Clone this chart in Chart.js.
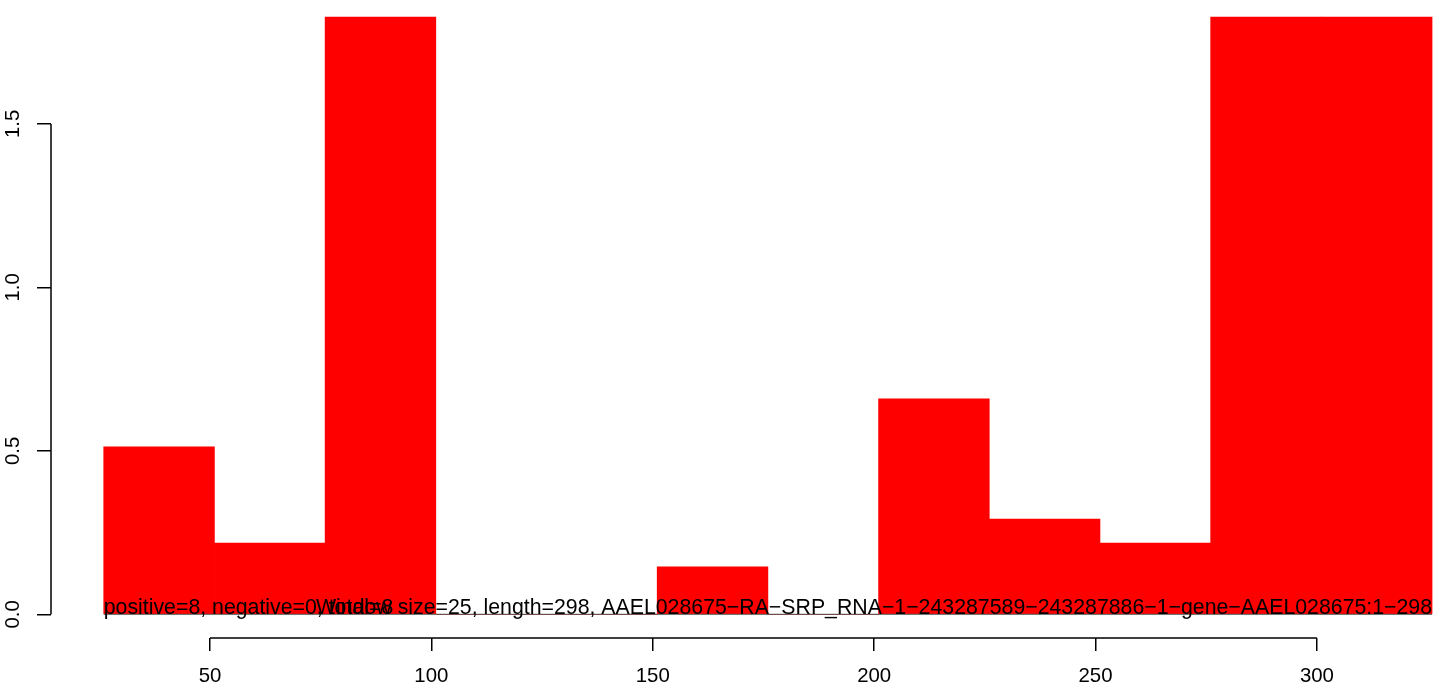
<!DOCTYPE html>
<html>
<head>
<meta charset="utf-8">
<script src="https://cdn.jsdelivr.net/npm/chart.js@4/dist/chart.umd.min.js"></script>
<style>
  html, body { margin: 0; padding: 0; background: #fff; overflow: hidden; }
  #wrap { width: 1444px; height: 689px; }
</style>
</head>
<body>
<div id="wrap"><canvas id="chart" width="1444" height="689"></canvas></div>
<script>
// window start positions (window size 25) and the values per window
const binStart = [26, 51, 76, 101, 126, 151, 176, 201, 226, 251, 276, 301];
const binValues = [0.512, 0.218, 1.827, 0, 0, 0.145, 0, 0.659, 0.291, 0.218, 1.827, 1.827];
const windowSize = 25;
const xTicks = [50, 100, 150, 200, 250, 300];
const yTicks = [0, 0.5, 1.0, 1.5];
const leftNote = 'positive=8, negative=0, total=8';
const rightNote = 'Window size=25, length=298, AAEL028675\u2212RA\u2212SRP_RNA\u22121\u2212243287589\u2212243287886\u22121\u2212gene\u2212AAEL028675:1\u2212298';

const FAMILY = '"Liberation Sans", Arial, sans-serif';
const TICK_FONT = '20.4px ' + FAMILY;
const NOTE_FONT = '21.3px ' + FAMILY;

const barData = binStart.map((s, i) => ({ x: s + windowSize / 2, y: binValues[i] }));
const baseLine = [
  { x: binStart[0], y: 0 },
  { x: binStart[binStart.length - 1] + windowSize, y: 0 }
];

const rAxes = {
  id: 'rAxes',
  afterDraw(chart) {
    const ctx = chart.ctx;
    const xs = chart.scales.x, ys = chart.scales.y;
    const left = chart.chartArea.left, bottom = chart.chartArea.bottom;
    ctx.save();
    ctx.strokeStyle = '#000';
    ctx.lineWidth = 1.5;
    ctx.beginPath();
    ctx.moveTo(left, ys.getPixelForValue(yTicks[0]));
    ctx.lineTo(left, ys.getPixelForValue(yTicks[yTicks.length - 1]));
    ctx.moveTo(xs.getPixelForValue(xTicks[0]), bottom);
    ctx.lineTo(xs.getPixelForValue(xTicks[xTicks.length - 1]), bottom);
    ctx.stroke();

    // rotated y labels like R's default axis
    ctx.fillStyle = '#000';
    ctx.font = TICK_FONT;
    ctx.textAlign = 'center';
    ctx.textBaseline = 'middle';
    yTicks.forEach(v => {
      ctx.save();
      ctx.translate(left - 37.5, ys.getPixelForValue(v));
      ctx.rotate(-Math.PI / 2);
      ctx.fillText(v.toFixed(1), 0, 0);
      ctx.restore();
    });

    // notes sitting on the zero line
    const y0 = ys.getPixelForValue(0);
    ctx.font = NOTE_FONT;
    ctx.textBaseline = 'alphabetic';
    ctx.textAlign = 'left';
    ctx.fillText(leftNote, xs.getPixelForValue(binStart[0]), y0);
    ctx.textAlign = 'right';
    ctx.fillText(rightNote, xs.getPixelForValue(binStart[binStart.length - 1] + windowSize), y0);
    ctx.restore();
  }
};

new Chart(document.getElementById('chart'), {
  type: 'bar',
  data: {
    datasets: [
      {
        type: 'line',
        data: baseLine,
        borderColor: '#505050',
        borderWidth: 1,
        pointRadius: 0,
        order: 1
      },
      {
        data: barData,
        backgroundColor: '#ff0000',
        borderWidth: 0,
        barPercentage: 1,
        categoryPercentage: 1,
        order: 2
      }
    ]
  },
  plugins: [rAxes],
  options: {
    responsive: false,
    animation: false,
    layout: { padding: 0 },
    plugins: { legend: { display: false }, tooltip: { enabled: false } },
    scales: {
      x: {
        type: 'linear',
        offset: false,
        min: 14.09,
        max: 328.7,
        afterBuildTicks: s => { s.ticks = xTicks.map(v => ({ value: v })); },
        afterFit: s => { s.height = 51; },
        border: { display: false },
        grid: { offset: false, drawOnChartArea: false, drawTicks: true, tickLength: 13, tickColor: '#000', lineWidth: 1.5 },
        ticks: { color: '#000', font: { family: FAMILY, size: 20.4 }, padding: 13, maxRotation: 0 }
      },
      y: {
        type: 'linear',
        min: -0.0725,
        max: 1.879,
        afterBuildTicks: s => { s.ticks = yTicks.map(v => ({ value: v })); },
        afterFit: s => { s.width = 51; },
        border: { display: false },
        grid: { offset: false, drawOnChartArea: false, drawTicks: true, tickLength: 14, tickColor: '#000', lineWidth: 1.5 },
        ticks: { display: false }
      }
    }
  }
});
</script>
</body>
</html>
